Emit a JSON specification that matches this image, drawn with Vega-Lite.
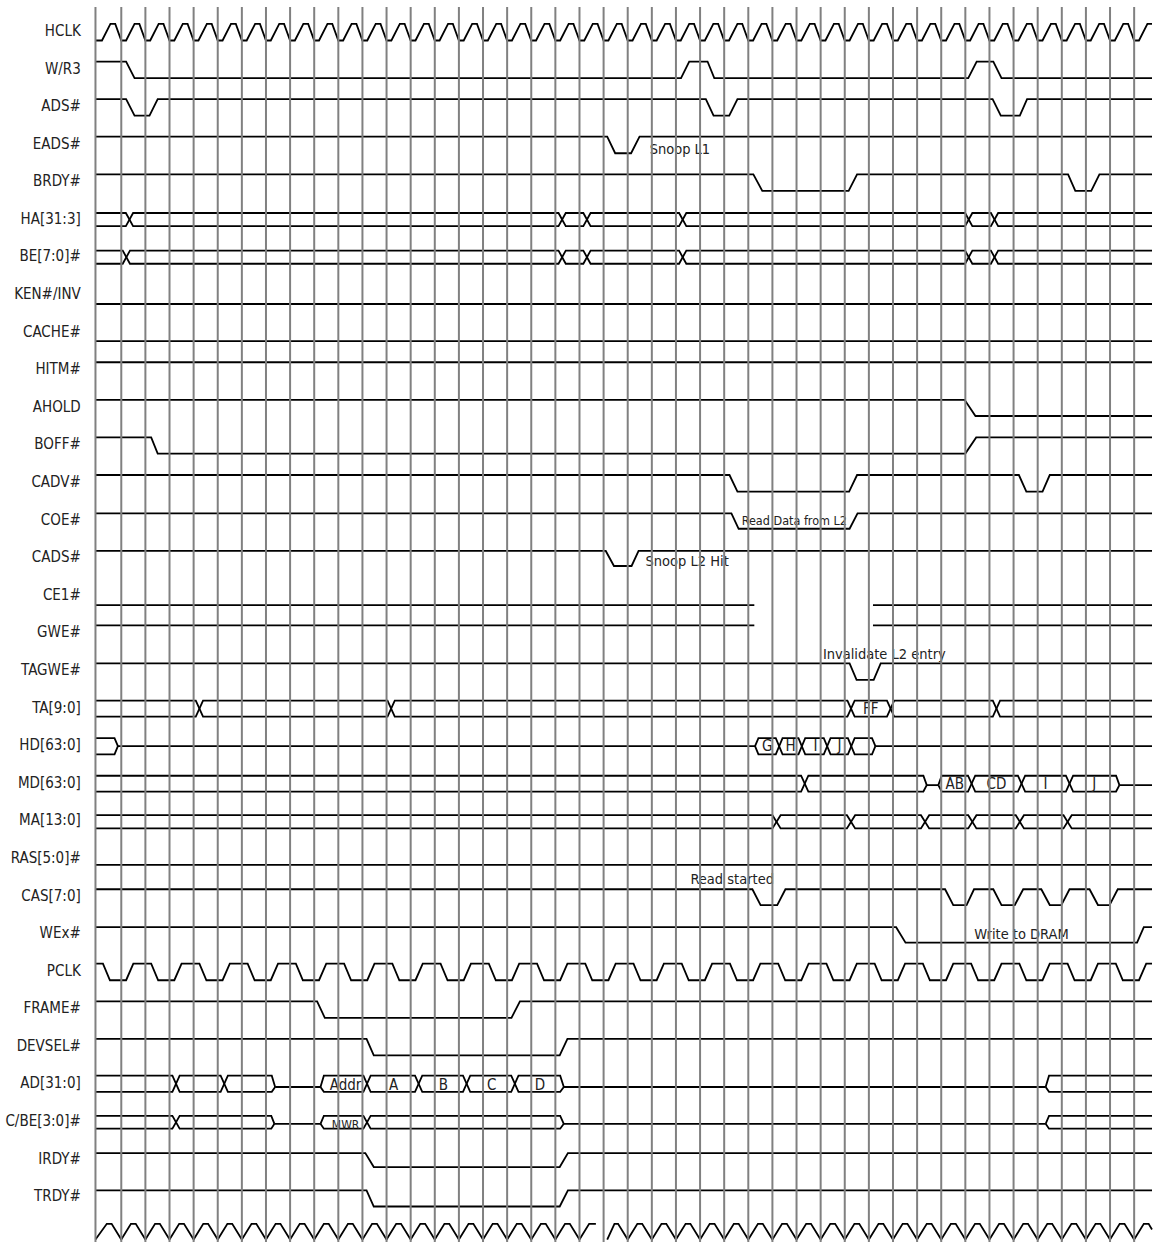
{
"$schema": "https://vega.github.io/schema/vega-lite/v6.json",
"width": 1156, "height": 1244,
"autosize": {"type": "fit", "contains": "padding"},
"padding": 0,
"background": "white",
"config": {"view": {"stroke": null}},
"datasets": {
"grid": [{"t":-0.07},{"t":1},{"t":2},{"t":3},{"t":4},{"t":5},{"t":6},{"t":7},{"t":8},{"t":9},{"t":10},{"t":11},{"t":12},{"t":13},{"t":14},{"t":15},{"t":16},{"t":17},{"t":18},{"t":19},{"t":20},{"t":21},{"t":22},{"t":23},{"t":24},{"t":25},{"t":26},{"t":27},{"t":28},{"t":29},{"t":30},{"t":31},{"t":32},{"t":33},{"t":34},{"t":35},{"t":36},{"t":37},{"t":38},{"t":39},{"t":40},{"t":41},{"t":42},{"t":43}],
"labels": [{"n":"HCLK","r":0},{"n":"W/R3","r":1},{"n":"ADS#","r":2},{"n":"EADS#","r":3},{"n":"BRDY#","r":4},{"n":"HA[31:3]","r":5},{"n":"BE[7:0]#","r":6},{"n":"KEN#/INV","r":7},{"n":"CACHE#","r":8},{"n":"HITM#","r":9},{"n":"AHOLD","r":10},{"n":"BOFF#","r":11},{"n":"CADV#","r":12},{"n":"COE#","r":13},{"n":"CADS#","r":14},{"n":"CE1#","r":15},{"n":"GWE#","r":16},{"n":"TAGWE#","r":17},{"n":"TA[9:0]","r":18},{"n":"HD[63:0]","r":19},{"n":"MD[63:0]","r":20},{"n":"MA[13:0]","r":21},{"n":"RAS[5:0]#","r":22},{"n":"CAS[7:0]","r":23},{"n":"WEx#","r":24},{"n":"PCLK","r":25},{"n":"FRAME#","r":26},{"n":"DEVSEL#","r":27},{"n":"AD[31:0]","r":28},{"n":"C/BE[3:0]#","r":29},{"n":"IRDY#","r":30},{"n":"TRDY#","r":31}],
"annL": [{"txt":"Snoop L1","t":22.91,"v":3.35},{"txt":"Snoop L2 Hit","t":22.74,"v":14.32},{"txt":"Read started","t":24.6,"v":22.78}],
"annC": [{"txt":"Invalidate L2 entry","t":32.64,"v":16.78},{"txt":"Write to DRAM","t":38.33,"v":24.24}],
"busL": [{"txt":"FF","t":32.08,"v":18.22},{"txt":"G","t":27.79,"v":19.21},{"txt":"H","t":28.75,"v":19.21},{"txt":"I","t":29.79,"v":19.21},{"txt":"J","t":30.78,"v":19.21},{"txt":"AB","t":35.56,"v":20.21},{"txt":"CD","t":37.29,"v":20.21},{"txt":"I","t":39.32,"v":20.21},{"txt":"J","t":41.34,"v":20.21},{"txt":"Addr","t":10.3,"v":28.22},{"txt":"A","t":12.29,"v":28.22},{"txt":"B","t":14.36,"v":28.22},{"txt":"C","t":16.36,"v":28.22},{"txt":"D","t":18.36,"v":28.22}],
"smallA": [{"txt":"Read Data from L2","t":28.91,"v":13.22}],
"smallB": [{"txt":"MWR","t":10.3,"v":29.29}],
"w": [
{"s":"hclk","t":-0.07,"v":0.44},
{"s":"hclk","t":0.2,"v":0.44},{"s":"hclk","t":0.55,"v":0},{"s":"hclk","t":0.75,"v":0},{"s":"hclk","t":1,"v":0.44},
{"s":"hclk","t":1.2,"v":0.44},{"s":"hclk","t":1.55,"v":0},{"s":"hclk","t":1.75,"v":0},{"s":"hclk","t":2,"v":0.44},
{"s":"hclk","t":2.2,"v":0.44},{"s":"hclk","t":2.55,"v":0},{"s":"hclk","t":2.75,"v":0},{"s":"hclk","t":3,"v":0.44},
{"s":"hclk","t":3.2,"v":0.44},{"s":"hclk","t":3.55,"v":0},{"s":"hclk","t":3.75,"v":0},{"s":"hclk","t":4,"v":0.44},
{"s":"hclk","t":4.2,"v":0.44},{"s":"hclk","t":4.55,"v":0},{"s":"hclk","t":4.75,"v":0},{"s":"hclk","t":5,"v":0.44},
{"s":"hclk","t":5.2,"v":0.44},{"s":"hclk","t":5.55,"v":0},{"s":"hclk","t":5.75,"v":0},{"s":"hclk","t":6,"v":0.44},
{"s":"hclk","t":6.2,"v":0.44},{"s":"hclk","t":6.55,"v":0},{"s":"hclk","t":6.75,"v":0},{"s":"hclk","t":7,"v":0.44},
{"s":"hclk","t":7.2,"v":0.44},{"s":"hclk","t":7.55,"v":0},{"s":"hclk","t":7.75,"v":0},{"s":"hclk","t":8,"v":0.44},
{"s":"hclk","t":8.2,"v":0.44},{"s":"hclk","t":8.55,"v":0},{"s":"hclk","t":8.75,"v":0},{"s":"hclk","t":9,"v":0.44},
{"s":"hclk","t":9.2,"v":0.44},{"s":"hclk","t":9.55,"v":0},{"s":"hclk","t":9.75,"v":0},{"s":"hclk","t":10,"v":0.44},
{"s":"hclk","t":10.2,"v":0.44},{"s":"hclk","t":10.55,"v":0},{"s":"hclk","t":10.75,"v":0},{"s":"hclk","t":11,"v":0.44},
{"s":"hclk","t":11.2,"v":0.44},{"s":"hclk","t":11.55,"v":0},{"s":"hclk","t":11.75,"v":0},{"s":"hclk","t":12,"v":0.44},
{"s":"hclk","t":12.2,"v":0.44},{"s":"hclk","t":12.55,"v":0},{"s":"hclk","t":12.75,"v":0},{"s":"hclk","t":13,"v":0.44},
{"s":"hclk","t":13.2,"v":0.44},{"s":"hclk","t":13.55,"v":0},{"s":"hclk","t":13.75,"v":0},{"s":"hclk","t":14,"v":0.44},
{"s":"hclk","t":14.2,"v":0.44},{"s":"hclk","t":14.55,"v":0},{"s":"hclk","t":14.75,"v":0},{"s":"hclk","t":15,"v":0.44},
{"s":"hclk","t":15.2,"v":0.44},{"s":"hclk","t":15.55,"v":0},{"s":"hclk","t":15.75,"v":0},{"s":"hclk","t":16,"v":0.44},
{"s":"hclk","t":16.2,"v":0.44},{"s":"hclk","t":16.55,"v":0},{"s":"hclk","t":16.75,"v":0},{"s":"hclk","t":17,"v":0.44},
{"s":"hclk","t":17.2,"v":0.44},{"s":"hclk","t":17.55,"v":0},{"s":"hclk","t":17.75,"v":0},{"s":"hclk","t":18,"v":0.44},
{"s":"hclk","t":18.2,"v":0.44},{"s":"hclk","t":18.55,"v":0},{"s":"hclk","t":18.75,"v":0},{"s":"hclk","t":19,"v":0.44},
{"s":"hclk","t":19.2,"v":0.44},{"s":"hclk","t":19.55,"v":0},{"s":"hclk","t":19.75,"v":0},{"s":"hclk","t":20,"v":0.44},
{"s":"hclk","t":20.2,"v":0.44},{"s":"hclk","t":20.55,"v":0},{"s":"hclk","t":20.75,"v":0},{"s":"hclk","t":21,"v":0.44},
{"s":"hclk","t":21.2,"v":0.44},{"s":"hclk","t":21.55,"v":0},{"s":"hclk","t":21.75,"v":0},{"s":"hclk","t":22,"v":0.44},
{"s":"hclk","t":22.2,"v":0.44},{"s":"hclk","t":22.55,"v":0},{"s":"hclk","t":22.75,"v":0},{"s":"hclk","t":23,"v":0.44},
{"s":"hclk","t":23.2,"v":0.44},{"s":"hclk","t":23.55,"v":0},{"s":"hclk","t":23.75,"v":0},{"s":"hclk","t":24,"v":0.44},
{"s":"hclk","t":24.2,"v":0.44},{"s":"hclk","t":24.55,"v":0},{"s":"hclk","t":24.75,"v":0},{"s":"hclk","t":25,"v":0.44},
{"s":"hclk","t":25.2,"v":0.44},{"s":"hclk","t":25.55,"v":0},{"s":"hclk","t":25.75,"v":0},{"s":"hclk","t":26,"v":0.44},
{"s":"hclk","t":26.2,"v":0.44},{"s":"hclk","t":26.55,"v":0},{"s":"hclk","t":26.75,"v":0},{"s":"hclk","t":27,"v":0.44},
{"s":"hclk","t":27.2,"v":0.44},{"s":"hclk","t":27.55,"v":0},{"s":"hclk","t":27.75,"v":0},{"s":"hclk","t":28,"v":0.44},
{"s":"hclk","t":28.2,"v":0.44},{"s":"hclk","t":28.55,"v":0},{"s":"hclk","t":28.75,"v":0},{"s":"hclk","t":29,"v":0.44},
{"s":"hclk","t":29.2,"v":0.44},{"s":"hclk","t":29.55,"v":0},{"s":"hclk","t":29.75,"v":0},{"s":"hclk","t":30,"v":0.44},
{"s":"hclk","t":30.2,"v":0.44},{"s":"hclk","t":30.55,"v":0},{"s":"hclk","t":30.75,"v":0},{"s":"hclk","t":31,"v":0.44},
{"s":"hclk","t":31.2,"v":0.44},{"s":"hclk","t":31.55,"v":0},{"s":"hclk","t":31.75,"v":0},{"s":"hclk","t":32,"v":0.44},
{"s":"hclk","t":32.2,"v":0.44},{"s":"hclk","t":32.55,"v":0},{"s":"hclk","t":32.75,"v":0},{"s":"hclk","t":33,"v":0.44},
{"s":"hclk","t":33.2,"v":0.44},{"s":"hclk","t":33.55,"v":0},{"s":"hclk","t":33.75,"v":0},{"s":"hclk","t":34,"v":0.44},
{"s":"hclk","t":34.2,"v":0.44},{"s":"hclk","t":34.55,"v":0},{"s":"hclk","t":34.75,"v":0},{"s":"hclk","t":35,"v":0.44},
{"s":"hclk","t":35.2,"v":0.44},{"s":"hclk","t":35.55,"v":0},{"s":"hclk","t":35.75,"v":0},{"s":"hclk","t":36,"v":0.44},
{"s":"hclk","t":36.2,"v":0.44},{"s":"hclk","t":36.55,"v":0},{"s":"hclk","t":36.75,"v":0},{"s":"hclk","t":37,"v":0.44},
{"s":"hclk","t":37.2,"v":0.44},{"s":"hclk","t":37.55,"v":0},{"s":"hclk","t":37.75,"v":0},{"s":"hclk","t":38,"v":0.44},
{"s":"hclk","t":38.2,"v":0.44},{"s":"hclk","t":38.55,"v":0},{"s":"hclk","t":38.75,"v":0},{"s":"hclk","t":39,"v":0.44},
{"s":"hclk","t":39.2,"v":0.44},{"s":"hclk","t":39.55,"v":0},{"s":"hclk","t":39.75,"v":0},{"s":"hclk","t":40,"v":0.44},
{"s":"hclk","t":40.2,"v":0.44},{"s":"hclk","t":40.55,"v":0},{"s":"hclk","t":40.75,"v":0},{"s":"hclk","t":41,"v":0.44},
{"s":"hclk","t":41.2,"v":0.44},{"s":"hclk","t":41.55,"v":0},{"s":"hclk","t":41.75,"v":0},{"s":"hclk","t":42,"v":0.44},
{"s":"hclk","t":42.2,"v":0.44},{"s":"hclk","t":42.55,"v":0},{"s":"hclk","t":42.75,"v":0},{"s":"hclk","t":43,"v":0.44},
{"s":"hclk","t":43.2,"v":0.44},{"s":"hclk","t":43.55,"v":0},{"s":"hclk","t":43.74,"v":0},

{"s":"wr","t":-0.07,"v":1},{"s":"wr","t":1.2,"v":1},{"s":"wr","t":1.55,"v":1.44},{"s":"wr","t":24.21,"v":1.44},{"s":"wr","t":24.55,"v":1},{"s":"wr","t":25.31,"v":1},{"s":"wr","t":25.59,"v":1.44},{"s":"wr","t":36.12,"v":1.44},{"s":"wr","t":36.47,"v":1},{"s":"wr","t":37.16,"v":1},{"s":"wr","t":37.5,"v":1.44},{"s":"wr","t":43.74,"v":1.44},

{"s":"ads","t":-0.07,"v":2},{"s":"ads","t":1.2,"v":2},{"s":"ads","t":1.55,"v":2.44},{"s":"ads","t":2.17,"v":2.44},{"s":"ads","t":2.51,"v":2},{"s":"ads","t":25.24,"v":2},{"s":"ads","t":25.56,"v":2.44},{"s":"ads","t":26.21,"v":2.44},{"s":"ads","t":26.55,"v":2},{"s":"ads","t":37.13,"v":2},{"s":"ads","t":37.47,"v":2.44},{"s":"ads","t":38.26,"v":2.44},{"s":"ads","t":38.56,"v":2},{"s":"ads","t":43.74,"v":2},

{"s":"eads","t":-0.07,"v":3},{"s":"eads","t":21.15,"v":3},{"s":"eads","t":21.48,"v":3.44},{"s":"eads","t":22.14,"v":3.44},{"s":"eads","t":22.49,"v":3},{"s":"eads","t":43.74,"v":3},

{"s":"brdy","t":-0.07,"v":4},{"s":"brdy","t":27.21,"v":4},{"s":"brdy","t":27.58,"v":4.44},{"s":"brdy","t":31.16,"v":4.44},{"s":"brdy","t":31.51,"v":4},{"s":"brdy","t":40.26,"v":4},{"s":"brdy","t":40.56,"v":4.44},{"s":"brdy","t":41.22,"v":4.44},{"s":"brdy","t":41.56,"v":4},{"s":"brdy","t":43.74,"v":4},

{"s":"haA","t":-0.07,"v":5.03},{"s":"haA","t":1.19,"v":5.03},{"s":"haA","t":1.49,"v":5.38},{"s":"haA","t":19.13,"v":5.38},{"s":"haA","t":19.43,"v":5.03},{"s":"haA","t":20.16,"v":5.03},{"s":"haA","t":20.46,"v":5.38},{"s":"haA","t":24.13,"v":5.38},{"s":"haA","t":24.43,"v":5.03},{"s":"haA","t":35.99,"v":5.03},{"s":"haA","t":36.29,"v":5.38},{"s":"haA","t":37.06,"v":5.38},{"s":"haA","t":37.36,"v":5.03},{"s":"haA","t":43.74,"v":5.03},
{"s":"haB","t":-0.07,"v":5.38},{"s":"haB","t":1.19,"v":5.38},{"s":"haB","t":1.49,"v":5.03},{"s":"haB","t":19.13,"v":5.03},{"s":"haB","t":19.43,"v":5.38},{"s":"haB","t":20.16,"v":5.38},{"s":"haB","t":20.46,"v":5.03},{"s":"haB","t":24.13,"v":5.03},{"s":"haB","t":24.43,"v":5.38},{"s":"haB","t":35.99,"v":5.38},{"s":"haB","t":36.29,"v":5.03},{"s":"haB","t":37.06,"v":5.03},{"s":"haB","t":37.36,"v":5.38},{"s":"haB","t":43.74,"v":5.38},

{"s":"beA","t":-0.07,"v":6.03},{"s":"beA","t":1.06,"v":6.03},{"s":"beA","t":1.36,"v":6.38},{"s":"beA","t":19.13,"v":6.38},{"s":"beA","t":19.43,"v":6.03},{"s":"beA","t":20.16,"v":6.03},{"s":"beA","t":20.46,"v":6.38},{"s":"beA","t":24.13,"v":6.38},{"s":"beA","t":24.43,"v":6.03},{"s":"beA","t":35.99,"v":6.03},{"s":"beA","t":36.29,"v":6.38},{"s":"beA","t":37.06,"v":6.38},{"s":"beA","t":37.36,"v":6.03},{"s":"beA","t":43.74,"v":6.03},
{"s":"beB","t":-0.07,"v":6.38},{"s":"beB","t":1.06,"v":6.38},{"s":"beB","t":1.36,"v":6.03},{"s":"beB","t":19.13,"v":6.03},{"s":"beB","t":19.43,"v":6.38},{"s":"beB","t":20.16,"v":6.38},{"s":"beB","t":20.46,"v":6.03},{"s":"beB","t":24.13,"v":6.03},{"s":"beB","t":24.43,"v":6.38},{"s":"beB","t":35.99,"v":6.38},{"s":"beB","t":36.29,"v":6.03},{"s":"beB","t":37.06,"v":6.03},{"s":"beB","t":37.36,"v":6.38},{"s":"beB","t":43.74,"v":6.38},

{"s":"ken","t":-0.07,"v":7.45},{"s":"ken","t":43.74,"v":7.45},
{"s":"cache","t":-0.07,"v":8.44},{"s":"cache","t":43.74,"v":8.44},
{"s":"hitm","t":-0.07,"v":9},{"s":"hitm","t":43.74,"v":9},
{"s":"ahold","t":-0.07,"v":10},{"s":"ahold","t":35.97,"v":10},{"s":"ahold","t":36.42,"v":10.43},{"s":"ahold","t":43.74,"v":10.43},
{"s":"boff","t":-0.07,"v":11},{"s":"boff","t":2.24,"v":11},{"s":"boff","t":2.51,"v":11.43},{"s":"boff","t":36,"v":11.43},{"s":"boff","t":36.45,"v":11},{"s":"boff","t":43.74,"v":11},
{"s":"cadv","t":-0.07,"v":12},{"s":"cadv","t":26.22,"v":12},{"s":"cadv","t":26.55,"v":12.44},{"s":"cadv","t":31.18,"v":12.44},{"s":"cadv","t":31.51,"v":12},{"s":"cadv","t":38.22,"v":12},{"s":"cadv","t":38.53,"v":12.44},{"s":"cadv","t":39.2,"v":12.44},{"s":"cadv","t":39.5,"v":12},{"s":"cadv","t":43.74,"v":12},
{"s":"coe","t":-0.07,"v":13.02},{"s":"coe","t":26.3,"v":13.02},{"s":"coe","t":26.6,"v":13.43},{"s":"coe","t":31.2,"v":13.43},{"s":"coe","t":31.53,"v":13.02},{"s":"coe","t":43.74,"v":13.02},
{"s":"cads","t":-0.07,"v":14.02},{"s":"cads","t":21.09,"v":14.02},{"s":"cads","t":21.43,"v":14.42},{"s":"cads","t":22.16,"v":14.42},{"s":"cads","t":22.45,"v":14.02},{"s":"cads","t":43.74,"v":14.02},
{"s":"ce1a","t":-0.07,"v":15.46},{"s":"ce1a","t":27.25,"v":15.46},
{"s":"ce1b","t":32.17,"v":15.46},{"s":"ce1b","t":43.74,"v":15.46},
{"s":"gwea","t":-0.07,"v":16},{"s":"gwea","t":27.25,"v":16},
{"s":"gweb","t":32.17,"v":16},{"s":"gweb","t":43.74,"v":16},
{"s":"tagwe","t":-0.07,"v":17.01},{"s":"tagwe","t":31.2,"v":17.01},{"s":"tagwe","t":31.49,"v":17.45},{"s":"tagwe","t":32.2,"v":17.45},{"s":"tagwe","t":32.49,"v":17.01},{"s":"tagwe","t":43.74,"v":17.01},

{"s":"taA","t":-0.07,"v":18},{"s":"taA","t":4.09,"v":18},{"s":"taA","t":4.39,"v":18.43},{"s":"taA","t":12.04,"v":18.43},{"s":"taA","t":12.34,"v":18},{"s":"taA","t":31.11,"v":18},{"s":"taA","t":31.41,"v":18.43},{"s":"taA","t":32.75,"v":18.43},{"s":"taA","t":33.05,"v":18},{"s":"taA","t":37.14,"v":18},{"s":"taA","t":37.44,"v":18.43},{"s":"taA","t":43.74,"v":18.43},
{"s":"taB","t":-0.07,"v":18.43},{"s":"taB","t":4.09,"v":18.43},{"s":"taB","t":4.39,"v":18},{"s":"taB","t":12.04,"v":18},{"s":"taB","t":12.34,"v":18.43},{"s":"taB","t":31.11,"v":18.43},{"s":"taB","t":31.41,"v":18},{"s":"taB","t":32.75,"v":18},{"s":"taB","t":33.05,"v":18.43},{"s":"taB","t":37.14,"v":18.43},{"s":"taB","t":37.44,"v":18},{"s":"taB","t":43.74,"v":18},

{"s":"hdA1","t":-0.07,"v":19},{"s":"hdA1","t":0.72,"v":19},{"s":"hdA1","t":0.86,"v":19.21},
{"s":"hdB1","t":-0.07,"v":19.43},{"s":"hdB1","t":0.72,"v":19.43},{"s":"hdB1","t":0.86,"v":19.21},
{"s":"hdM1","t":0.86,"v":19.21},{"s":"hdM1","t":27.28,"v":19.21},
{"s":"hdA2","t":27.28,"v":19.21},{"s":"hdA2","t":27.42,"v":19},{"s":"hdA2","t":28.14,"v":19},{"s":"hdA2","t":28.42,"v":19.43},{"s":"hdA2","t":29.08,"v":19.43},{"s":"hdA2","t":29.36,"v":19},{"s":"hdA2","t":30.13,"v":19},{"s":"hdA2","t":30.41,"v":19.43},{"s":"hdA2","t":31.13,"v":19.43},{"s":"hdA2","t":31.41,"v":19},{"s":"hdA2","t":32.13,"v":19},{"s":"hdA2","t":32.27,"v":19.21},
{"s":"hdB2","t":27.28,"v":19.21},{"s":"hdB2","t":27.42,"v":19.43},{"s":"hdB2","t":28.14,"v":19.43},{"s":"hdB2","t":28.42,"v":19},{"s":"hdB2","t":29.08,"v":19},{"s":"hdB2","t":29.36,"v":19.43},{"s":"hdB2","t":30.13,"v":19.43},{"s":"hdB2","t":30.41,"v":19},{"s":"hdB2","t":31.13,"v":19},{"s":"hdB2","t":31.41,"v":19.43},{"s":"hdB2","t":32.13,"v":19.43},{"s":"hdB2","t":32.27,"v":19.21},
{"s":"hdM2","t":32.27,"v":19.21},{"s":"hdM2","t":43.74,"v":19.21},

{"s":"mdA1","t":-0.07,"v":20},{"s":"mdA1","t":29.19,"v":20},{"s":"mdA1","t":29.49,"v":20.42},{"s":"mdA1","t":34.26,"v":20.42},{"s":"mdA1","t":34.4,"v":20.25},
{"s":"mdB1","t":-0.07,"v":20.42},{"s":"mdB1","t":29.19,"v":20.42},{"s":"mdB1","t":29.49,"v":20},{"s":"mdB1","t":34.26,"v":20},{"s":"mdB1","t":34.4,"v":20.25},
{"s":"mdM1","t":34.4,"v":20.25},{"s":"mdM1","t":34.88,"v":20.25},
{"s":"mdA2","t":34.88,"v":20.25},{"s":"mdA2","t":35.02,"v":20},{"s":"mdA2","t":36.11,"v":20},{"s":"mdA2","t":36.41,"v":20.42},{"s":"mdA2","t":38.18,"v":20.42},{"s":"mdA2","t":38.48,"v":20},{"s":"mdA2","t":40.17,"v":20},{"s":"mdA2","t":40.47,"v":20.42},{"s":"mdA2","t":42.25,"v":20.42},{"s":"mdA2","t":42.39,"v":20.25},
{"s":"mdB2","t":34.88,"v":20.25},{"s":"mdB2","t":35.02,"v":20.42},{"s":"mdB2","t":36.11,"v":20.42},{"s":"mdB2","t":36.41,"v":20},{"s":"mdB2","t":38.18,"v":20},{"s":"mdB2","t":38.48,"v":20.42},{"s":"mdB2","t":40.17,"v":20.42},{"s":"mdB2","t":40.47,"v":20},{"s":"mdB2","t":42.25,"v":20},{"s":"mdB2","t":42.39,"v":20.25},
{"s":"mdM2","t":42.39,"v":20.25},{"s":"mdM2","t":43.74,"v":20.25},

{"s":"maA","t":-0.07,"v":21.05},{"s":"maA","t":28,"v":21.05},{"s":"maA","t":28.34,"v":21.4},{"s":"maA","t":31.09,"v":21.4},{"s":"maA","t":31.43,"v":21.05},{"s":"maA","t":34.16,"v":21.05},{"s":"maA","t":34.5,"v":21.4},{"s":"maA","t":36.12,"v":21.4},{"s":"maA","t":36.46,"v":21.05},{"s":"maA","t":38.09,"v":21.05},{"s":"maA","t":38.43,"v":21.4},{"s":"maA","t":40.07,"v":21.4},{"s":"maA","t":40.41,"v":21.05},{"s":"maA","t":43.74,"v":21.05},
{"s":"maB","t":-0.07,"v":21.4},{"s":"maB","t":28,"v":21.4},{"s":"maB","t":28.34,"v":21.05},{"s":"maB","t":31.09,"v":21.05},{"s":"maB","t":31.43,"v":21.4},{"s":"maB","t":34.16,"v":21.4},{"s":"maB","t":34.5,"v":21.05},{"s":"maB","t":36.12,"v":21.05},{"s":"maB","t":36.46,"v":21.4},{"s":"maB","t":38.09,"v":21.4},{"s":"maB","t":38.43,"v":21.05},{"s":"maB","t":40.07,"v":21.05},{"s":"maB","t":40.41,"v":21.4},{"s":"maB","t":43.74,"v":21.4},

{"s":"ras","t":-0.07,"v":22.37},{"s":"ras","t":43.74,"v":22.37},

{"s":"cas","t":-0.07,"v":23.02},{"s":"cas","t":27.17,"v":23.02},{"s":"cas","t":27.51,"v":23.44},{"s":"cas","t":28.2,"v":23.44},{"s":"cas","t":28.54,"v":23.02},{"s":"cas","t":35.16,"v":23.02},{"s":"cas","t":35.5,"v":23.44},{"s":"cas","t":36.05,"v":23.44},{"s":"cas","t":36.36,"v":23.02},{"s":"cas","t":37.16,"v":23.02},{"s":"cas","t":37.5,"v":23.44},{"s":"cas","t":38.05,"v":23.44},{"s":"cas","t":38.4,"v":23.02},{"s":"cas","t":39.15,"v":23.02},{"s":"cas","t":39.5,"v":23.44},{"s":"cas","t":39.98,"v":23.44},{"s":"cas","t":40.32,"v":23.02},{"s":"cas","t":41.15,"v":23.02},{"s":"cas","t":41.5,"v":23.44},{"s":"cas","t":41.98,"v":23.44},{"s":"cas","t":42.32,"v":23.02},{"s":"cas","t":43.74,"v":23.02},

{"s":"wex","t":-0.07,"v":24.03},{"s":"wex","t":33.13,"v":24.03},{"s":"wex","t":33.52,"v":24.44},{"s":"wex","t":43.12,"v":24.44},{"s":"wex","t":43.4,"v":24.03},{"s":"wex","t":43.74,"v":24.03},

{"s":"pclk","t":-0.07,"v":25},
{"s":"pclk","t":0.24,"v":25},{"s":"pclk","t":0.53,"v":25.44},{"s":"pclk","t":1.2,"v":25.44},{"s":"pclk","t":1.5,"v":25},
{"s":"pclk","t":2.24,"v":25},{"s":"pclk","t":2.53,"v":25.44},{"s":"pclk","t":3.2,"v":25.44},{"s":"pclk","t":3.5,"v":25},
{"s":"pclk","t":4.24,"v":25},{"s":"pclk","t":4.53,"v":25.44},{"s":"pclk","t":5.2,"v":25.44},{"s":"pclk","t":5.5,"v":25},
{"s":"pclk","t":6.24,"v":25},{"s":"pclk","t":6.53,"v":25.44},{"s":"pclk","t":7.2,"v":25.44},{"s":"pclk","t":7.5,"v":25},
{"s":"pclk","t":8.24,"v":25},{"s":"pclk","t":8.53,"v":25.44},{"s":"pclk","t":9.2,"v":25.44},{"s":"pclk","t":9.5,"v":25},
{"s":"pclk","t":10.24,"v":25},{"s":"pclk","t":10.53,"v":25.44},{"s":"pclk","t":11.2,"v":25.44},{"s":"pclk","t":11.5,"v":25},
{"s":"pclk","t":12.24,"v":25},{"s":"pclk","t":12.53,"v":25.44},{"s":"pclk","t":13.2,"v":25.44},{"s":"pclk","t":13.5,"v":25},
{"s":"pclk","t":14.24,"v":25},{"s":"pclk","t":14.53,"v":25.44},{"s":"pclk","t":15.2,"v":25.44},{"s":"pclk","t":15.5,"v":25},
{"s":"pclk","t":16.24,"v":25},{"s":"pclk","t":16.53,"v":25.44},{"s":"pclk","t":17.2,"v":25.44},{"s":"pclk","t":17.5,"v":25},
{"s":"pclk","t":18.24,"v":25},{"s":"pclk","t":18.53,"v":25.44},{"s":"pclk","t":19.2,"v":25.44},{"s":"pclk","t":19.5,"v":25},
{"s":"pclk","t":20.24,"v":25},{"s":"pclk","t":20.53,"v":25.44},{"s":"pclk","t":21.2,"v":25.44},{"s":"pclk","t":21.5,"v":25},
{"s":"pclk","t":22.24,"v":25},{"s":"pclk","t":22.53,"v":25.44},{"s":"pclk","t":23.2,"v":25.44},{"s":"pclk","t":23.5,"v":25},
{"s":"pclk","t":24.24,"v":25},{"s":"pclk","t":24.53,"v":25.44},{"s":"pclk","t":25.2,"v":25.44},{"s":"pclk","t":25.5,"v":25},
{"s":"pclk","t":26.24,"v":25},{"s":"pclk","t":26.53,"v":25.44},{"s":"pclk","t":27.2,"v":25.44},{"s":"pclk","t":27.5,"v":25},
{"s":"pclk","t":28.24,"v":25},{"s":"pclk","t":28.53,"v":25.44},{"s":"pclk","t":29.2,"v":25.44},{"s":"pclk","t":29.5,"v":25},
{"s":"pclk","t":30.24,"v":25},{"s":"pclk","t":30.53,"v":25.44},{"s":"pclk","t":31.2,"v":25.44},{"s":"pclk","t":31.5,"v":25},
{"s":"pclk","t":32.24,"v":25},{"s":"pclk","t":32.53,"v":25.44},{"s":"pclk","t":33.2,"v":25.44},{"s":"pclk","t":33.5,"v":25},
{"s":"pclk","t":34.24,"v":25},{"s":"pclk","t":34.53,"v":25.44},{"s":"pclk","t":35.2,"v":25.44},{"s":"pclk","t":35.5,"v":25},
{"s":"pclk","t":36.24,"v":25},{"s":"pclk","t":36.53,"v":25.44},{"s":"pclk","t":37.2,"v":25.44},{"s":"pclk","t":37.5,"v":25},
{"s":"pclk","t":38.24,"v":25},{"s":"pclk","t":38.53,"v":25.44},{"s":"pclk","t":39.2,"v":25.44},{"s":"pclk","t":39.5,"v":25},
{"s":"pclk","t":40.24,"v":25},{"s":"pclk","t":40.53,"v":25.44},{"s":"pclk","t":41.2,"v":25.44},{"s":"pclk","t":41.5,"v":25},
{"s":"pclk","t":42.24,"v":25},{"s":"pclk","t":42.53,"v":25.44},{"s":"pclk","t":43.2,"v":25.44},{"s":"pclk","t":43.5,"v":25},
{"s":"pclk","t":43.74,"v":25},

{"s":"frame","t":-0.07,"v":26},{"s":"frame","t":9.12,"v":26},{"s":"frame","t":9.44,"v":26.44},{"s":"frame","t":17.18,"v":26.44},{"s":"frame","t":17.53,"v":26},{"s":"frame","t":43.74,"v":26},
{"s":"devsel","t":-0.07,"v":27},{"s":"devsel","t":11.17,"v":27},{"s":"devsel","t":11.47,"v":27.44},{"s":"devsel","t":19.18,"v":27.44},{"s":"devsel","t":19.5,"v":27},{"s":"devsel","t":43.74,"v":27},

{"s":"adA1","t":-0.07,"v":27.98},{"s":"adA1","t":3.12,"v":27.98},{"s":"adA1","t":3.42,"v":28.41},{"s":"adA1","t":5.12,"v":28.41},{"s":"adA1","t":5.42,"v":27.98},{"s":"adA1","t":7.24,"v":27.98},{"s":"adA1","t":7.38,"v":28.28},
{"s":"adB1","t":-0.07,"v":28.41},{"s":"adB1","t":3.12,"v":28.41},{"s":"adB1","t":3.42,"v":27.98},{"s":"adB1","t":5.12,"v":27.98},{"s":"adB1","t":5.42,"v":28.41},{"s":"adB1","t":7.24,"v":28.41},{"s":"adB1","t":7.38,"v":28.28},
{"s":"adM1","t":7.38,"v":28.28},{"s":"adM1","t":9.26,"v":28.28},
{"s":"adA2","t":9.26,"v":28.28},{"s":"adA2","t":9.4,"v":27.98},{"s":"adA2","t":11.04,"v":27.98},{"s":"adA2","t":11.34,"v":28.41},{"s":"adA2","t":13.18,"v":28.41},{"s":"adA2","t":13.48,"v":27.98},{"s":"adA2","t":15.17,"v":27.98},{"s":"adA2","t":15.47,"v":28.41},{"s":"adA2","t":17.17,"v":28.41},{"s":"adA2","t":17.47,"v":27.98},{"s":"adA2","t":19.2,"v":27.98},{"s":"adA2","t":19.35,"v":28.28},
{"s":"adB2","t":9.26,"v":28.28},{"s":"adB2","t":9.4,"v":28.41},{"s":"adB2","t":11.04,"v":28.41},{"s":"adB2","t":11.34,"v":27.98},{"s":"adB2","t":13.18,"v":27.98},{"s":"adB2","t":13.48,"v":28.41},{"s":"adB2","t":15.17,"v":28.41},{"s":"adB2","t":15.47,"v":27.98},{"s":"adB2","t":17.17,"v":27.98},{"s":"adB2","t":17.47,"v":28.41},{"s":"adB2","t":19.2,"v":28.41},{"s":"adB2","t":19.35,"v":28.28},
{"s":"adM2","t":19.35,"v":28.28},{"s":"adM2","t":39.33,"v":28.28},
{"s":"adA3","t":39.33,"v":28.28},{"s":"adA3","t":39.47,"v":27.98},{"s":"adA3","t":43.74,"v":27.98},
{"s":"adB3","t":39.33,"v":28.28},{"s":"adB3","t":39.47,"v":28.41},{"s":"adB3","t":43.74,"v":28.41},

{"s":"cbA1","t":-0.07,"v":29.05},{"s":"cbA1","t":3.12,"v":29.05},{"s":"cbA1","t":3.42,"v":29.39},{"s":"cbA1","t":7.22,"v":29.39},{"s":"cbA1","t":7.35,"v":29.26},
{"s":"cbB1","t":-0.07,"v":29.39},{"s":"cbB1","t":3.12,"v":29.39},{"s":"cbB1","t":3.42,"v":29.05},{"s":"cbB1","t":7.22,"v":29.05},{"s":"cbB1","t":7.35,"v":29.26},
{"s":"cbM1","t":7.35,"v":29.26},{"s":"cbM1","t":9.26,"v":29.26},
{"s":"cbA2","t":9.26,"v":29.26},{"s":"cbA2","t":9.4,"v":29.05},{"s":"cbA2","t":11.04,"v":29.05},{"s":"cbA2","t":11.34,"v":29.39},{"s":"cbA2","t":19.2,"v":29.39},{"s":"cbA2","t":19.35,"v":29.26},
{"s":"cbB2","t":9.26,"v":29.26},{"s":"cbB2","t":9.4,"v":29.39},{"s":"cbB2","t":11.04,"v":29.39},{"s":"cbB2","t":11.34,"v":29.05},{"s":"cbB2","t":19.2,"v":29.05},{"s":"cbB2","t":19.35,"v":29.26},
{"s":"cbM2","t":19.35,"v":29.26},{"s":"cbM2","t":39.33,"v":29.26},
{"s":"cbA3","t":39.33,"v":29.26},{"s":"cbA3","t":39.47,"v":29.05},{"s":"cbA3","t":43.74,"v":29.05},
{"s":"cbB3","t":39.33,"v":29.26},{"s":"cbB3","t":39.47,"v":29.39},{"s":"cbB3","t":43.74,"v":29.39},

{"s":"irdy","t":-0.07,"v":30.04},{"s":"irdy","t":11.12,"v":30.04},{"s":"irdy","t":11.47,"v":30.41},{"s":"irdy","t":19.18,"v":30.41},{"s":"irdy","t":19.52,"v":30.04},{"s":"irdy","t":43.74,"v":30.04},
{"s":"trdy","t":-0.07,"v":31.03},{"s":"trdy","t":11.17,"v":31.03},{"s":"trdy","t":11.47,"v":31.46},{"s":"trdy","t":19.18,"v":31.46},{"s":"trdy","t":19.52,"v":31.03},{"s":"trdy","t":43.74,"v":31.03},

{"s":"bc1","t":-0.07,"v":32.34},{"s":"bc1","t":0.4,"v":31.92},{"s":"bc1","t":0.6,"v":31.92},
{"s":"bc1","t":1,"v":32.34},{"s":"bc1","t":1.4,"v":31.92},{"s":"bc1","t":1.6,"v":31.92},
{"s":"bc1","t":2,"v":32.34},{"s":"bc1","t":2.4,"v":31.92},{"s":"bc1","t":2.6,"v":31.92},
{"s":"bc1","t":3,"v":32.34},{"s":"bc1","t":3.4,"v":31.92},{"s":"bc1","t":3.6,"v":31.92},
{"s":"bc1","t":4,"v":32.34},{"s":"bc1","t":4.4,"v":31.92},{"s":"bc1","t":4.6,"v":31.92},
{"s":"bc1","t":5,"v":32.34},{"s":"bc1","t":5.4,"v":31.92},{"s":"bc1","t":5.6,"v":31.92},
{"s":"bc1","t":6,"v":32.34},{"s":"bc1","t":6.4,"v":31.92},{"s":"bc1","t":6.6,"v":31.92},
{"s":"bc1","t":7,"v":32.34},{"s":"bc1","t":7.4,"v":31.92},{"s":"bc1","t":7.6,"v":31.92},
{"s":"bc1","t":8,"v":32.34},{"s":"bc1","t":8.4,"v":31.92},{"s":"bc1","t":8.6,"v":31.92},
{"s":"bc1","t":9,"v":32.34},{"s":"bc1","t":9.4,"v":31.92},{"s":"bc1","t":9.6,"v":31.92},
{"s":"bc1","t":10,"v":32.34},{"s":"bc1","t":10.4,"v":31.92},{"s":"bc1","t":10.6,"v":31.92},
{"s":"bc1","t":11,"v":32.34},{"s":"bc1","t":11.4,"v":31.92},{"s":"bc1","t":11.6,"v":31.92},
{"s":"bc1","t":12,"v":32.34},{"s":"bc1","t":12.4,"v":31.92},{"s":"bc1","t":12.6,"v":31.92},
{"s":"bc1","t":13,"v":32.34},{"s":"bc1","t":13.4,"v":31.92},{"s":"bc1","t":13.6,"v":31.92},
{"s":"bc1","t":14,"v":32.34},{"s":"bc1","t":14.4,"v":31.92},{"s":"bc1","t":14.6,"v":31.92},
{"s":"bc1","t":15,"v":32.34},{"s":"bc1","t":15.4,"v":31.92},{"s":"bc1","t":15.6,"v":31.92},
{"s":"bc1","t":16,"v":32.34},{"s":"bc1","t":16.4,"v":31.92},{"s":"bc1","t":16.6,"v":31.92},
{"s":"bc1","t":17,"v":32.34},{"s":"bc1","t":17.4,"v":31.92},{"s":"bc1","t":17.6,"v":31.92},
{"s":"bc1","t":18,"v":32.34},{"s":"bc1","t":18.4,"v":31.92},{"s":"bc1","t":18.6,"v":31.92},
{"s":"bc1","t":19,"v":32.34},{"s":"bc1","t":19.4,"v":31.92},{"s":"bc1","t":19.6,"v":31.92},
{"s":"bc1","t":20,"v":32.34},{"s":"bc1","t":20.4,"v":31.92},{"s":"bc1","t":20.68,"v":31.92},
{"s":"bc2","t":21.15,"v":32.34},{"s":"bc2","t":21.45,"v":31.92},{"s":"bc2","t":21.6,"v":31.92},
{"s":"bc2","t":22,"v":32.34},{"s":"bc2","t":22.4,"v":31.92},{"s":"bc2","t":22.6,"v":31.92},
{"s":"bc2","t":23,"v":32.34},{"s":"bc2","t":23.4,"v":31.92},{"s":"bc2","t":23.6,"v":31.92},
{"s":"bc2","t":24,"v":32.34},{"s":"bc2","t":24.4,"v":31.92},{"s":"bc2","t":24.6,"v":31.92},
{"s":"bc2","t":25,"v":32.34},{"s":"bc2","t":25.4,"v":31.92},{"s":"bc2","t":25.6,"v":31.92},
{"s":"bc2","t":26,"v":32.34},{"s":"bc2","t":26.4,"v":31.92},{"s":"bc2","t":26.6,"v":31.92},
{"s":"bc2","t":27,"v":32.34},{"s":"bc2","t":27.4,"v":31.92},{"s":"bc2","t":27.6,"v":31.92},
{"s":"bc2","t":28,"v":32.34},{"s":"bc2","t":28.4,"v":31.92},{"s":"bc2","t":28.6,"v":31.92},
{"s":"bc2","t":29,"v":32.34},{"s":"bc2","t":29.4,"v":31.92},{"s":"bc2","t":29.6,"v":31.92},
{"s":"bc2","t":30,"v":32.34},{"s":"bc2","t":30.4,"v":31.92},{"s":"bc2","t":30.6,"v":31.92},
{"s":"bc2","t":31,"v":32.34},{"s":"bc2","t":31.4,"v":31.92},{"s":"bc2","t":31.6,"v":31.92},
{"s":"bc2","t":32,"v":32.34},{"s":"bc2","t":32.4,"v":31.92},{"s":"bc2","t":32.6,"v":31.92},
{"s":"bc2","t":33,"v":32.34},{"s":"bc2","t":33.4,"v":31.92},{"s":"bc2","t":33.6,"v":31.92},
{"s":"bc2","t":34,"v":32.34},{"s":"bc2","t":34.4,"v":31.92},{"s":"bc2","t":34.6,"v":31.92},
{"s":"bc2","t":35,"v":32.34},{"s":"bc2","t":35.4,"v":31.92},{"s":"bc2","t":35.6,"v":31.92},
{"s":"bc2","t":36,"v":32.34},{"s":"bc2","t":36.4,"v":31.92},{"s":"bc2","t":36.6,"v":31.92},
{"s":"bc2","t":37,"v":32.34},{"s":"bc2","t":37.4,"v":31.92},{"s":"bc2","t":37.6,"v":31.92},
{"s":"bc2","t":38,"v":32.34},{"s":"bc2","t":38.4,"v":31.92},{"s":"bc2","t":38.6,"v":31.92},
{"s":"bc2","t":39,"v":32.34},{"s":"bc2","t":39.4,"v":31.92},{"s":"bc2","t":39.6,"v":31.92},
{"s":"bc2","t":40,"v":32.34},{"s":"bc2","t":40.4,"v":31.92},{"s":"bc2","t":40.6,"v":31.92},
{"s":"bc2","t":41,"v":32.34},{"s":"bc2","t":41.4,"v":31.92},{"s":"bc2","t":41.6,"v":31.92},
{"s":"bc2","t":42,"v":32.34},{"s":"bc2","t":42.4,"v":31.92},{"s":"bc2","t":42.6,"v":31.92},
{"s":"bc2","t":43,"v":32.34},{"s":"bc2","t":43.4,"v":31.92},{"s":"bc2","t":43.6,"v":31.92},{"s":"bc2","t":43.74,"v":32.07}
]
},
"layer": [
{
"data": {"name": "w"},
"mark": {"type": "line", "color": "black", "strokeWidth": 1.8},
"encoding": {
"x": {"field": "t", "type": "quantitative", "scale": {"domain": [-4.029, 43.74], "nice": false, "zero": false}, "axis": null},
"y": {"field": "v", "type": "quantitative", "scale": {"domain": [-0.637, 32.404], "nice": false, "zero": false, "reverse": true}, "axis": null},
"detail": {"field": "s", "type": "nominal"}
}
},
{
"data": {"name": "labels"},
"mark": {"type": "text", "align": "right", "baseline": "middle", "dy": 7, "fontSize": 15, "font": "Liberation Sans Narrow, DejaVu Sans Condensed, Liberation Sans, sans-serif", "color": "#222"},
"encoding": {
"x": {"datum": -0.68, "type": "quantitative", "scale": {"domain": [-4.029, 43.74], "nice": false, "zero": false}},
"y": {"field": "r", "type": "quantitative", "scale": {"domain": [-0.637, 32.404], "nice": false, "zero": false, "reverse": true}},
"text": {"field": "n"}
}
},
{
"data": {"name": "annL"},
"mark": {"type": "text", "align": "left", "baseline": "middle", "fontSize": 14.5, "font": "Liberation Sans Narrow, DejaVu Sans Condensed, Liberation Sans, sans-serif", "color": "#222"},
"encoding": {
"x": {"field": "t", "type": "quantitative", "scale": {"domain": [-4.029, 43.74], "nice": false, "zero": false}},
"y": {"field": "v", "type": "quantitative", "scale": {"domain": [-0.637, 32.404], "nice": false, "zero": false, "reverse": true}},
"text": {"field": "txt"}
}
},
{
"data": {"name": "annC"},
"mark": {"type": "text", "align": "center", "baseline": "middle", "fontSize": 14.5, "font": "Liberation Sans Narrow, DejaVu Sans Condensed, Liberation Sans, sans-serif", "color": "#222"},
"encoding": {
"x": {"field": "t", "type": "quantitative", "scale": {"domain": [-4.029, 43.74], "nice": false, "zero": false}},
"y": {"field": "v", "type": "quantitative", "scale": {"domain": [-0.637, 32.404], "nice": false, "zero": false, "reverse": true}},
"text": {"field": "txt"}
}
},
{
"data": {"name": "busL"},
"mark": {"type": "text", "align": "center", "baseline": "middle", "fontSize": 15, "font": "Liberation Sans Narrow, DejaVu Sans Condensed, Liberation Sans, sans-serif", "color": "#222"},
"encoding": {
"x": {"field": "t", "type": "quantitative", "scale": {"domain": [-4.029, 43.74], "nice": false, "zero": false}},
"y": {"field": "v", "type": "quantitative", "scale": {"domain": [-0.637, 32.404], "nice": false, "zero": false, "reverse": true}},
"text": {"field": "txt"}
}
},
{
"data": {"name": "smallA"},
"mark": {"type": "text", "align": "center", "baseline": "middle", "fontSize": 12.5, "font": "Liberation Sans Narrow, DejaVu Sans Condensed, Liberation Sans, sans-serif", "color": "#222"},
"encoding": {
"x": {"field": "t", "type": "quantitative", "scale": {"domain": [-4.029, 43.74], "nice": false, "zero": false}},
"y": {"field": "v", "type": "quantitative", "scale": {"domain": [-0.637, 32.404], "nice": false, "zero": false, "reverse": true}},
"text": {"field": "txt"}
}
},
{
"data": {"name": "smallB"},
"mark": {"type": "text", "align": "center", "baseline": "middle", "fontSize": 12, "font": "Liberation Sans Narrow, DejaVu Sans Condensed, Liberation Sans, sans-serif", "color": "#222"},
"encoding": {
"x": {"field": "t", "type": "quantitative", "scale": {"domain": [-4.029, 43.74], "nice": false, "zero": false}},
"y": {"field": "v", "type": "quantitative", "scale": {"domain": [-0.637, 32.404], "nice": false, "zero": false, "reverse": true}},
"text": {"field": "txt"}
}
},
{
"data": {"name": "grid"},
"mark": {"type": "rule", "color": "#808080", "strokeWidth": 2},
"encoding": {
"x": {"field": "t", "type": "quantitative", "scale": {"domain": [-4.029, 43.74], "nice": false, "zero": false}},
"y": {"datum": -0.45, "type": "quantitative", "scale": {"domain": [-0.637, 32.404], "nice": false, "zero": false, "reverse": true}},
"y2": {"datum": 32.404}
}
}
]
}
